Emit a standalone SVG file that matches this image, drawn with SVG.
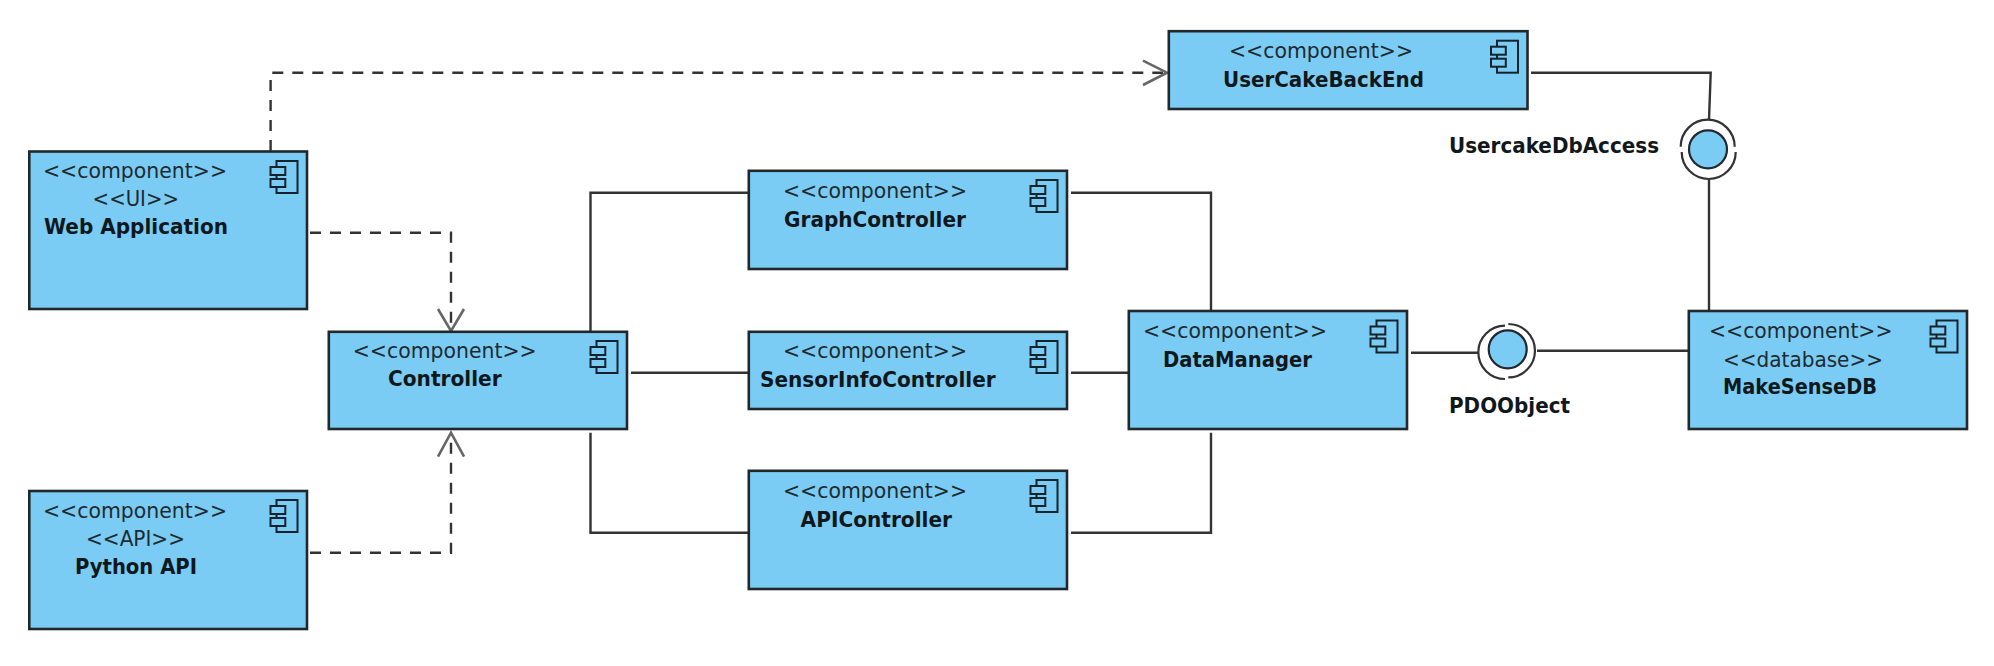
<svg xmlns="http://www.w3.org/2000/svg" width="1994" height="666" viewBox="0 0 1994 666">
<style>
.box{fill:#7accf4;stroke:#22272b;stroke-width:2.6}
.ico{fill:#7accf4;stroke:#14222b;stroke-width:2}
.ln{fill:none;stroke:#333;stroke-width:2.4}
.ds{fill:none;stroke:#333;stroke-width:2.4;stroke-dasharray:11 9}
.hd{fill:none;stroke:#666;stroke-width:2.6}
.arc{fill:none;stroke:#333;stroke-width:2.2}
.ifc{fill:#7accf4;stroke:#22272b;stroke-width:2.2}
text{font-family:"DejaVu Sans","Liberation Sans",sans-serif;font-size:21px;fill:#1f2a30;transform:translateY(1px)}
.b{font-weight:bold;fill:#10181c}
</style>
<defs>
<g id="icon">
<rect class="ico" x="-30.5" y="10" width="21" height="32"/>
<rect class="ico" x="-36.5" y="16" width="14.8" height="8"/>
<rect class="ico" x="-36.5" y="28" width="14.8" height="8"/>
</g>
</defs>
<g id="connectors">
<path class="ds" d="M270.6 151V72.7H1163"/>
<path class="hd" d="M1143 60.7L1167 72.7L1143 85"/>
<path class="ds" d="M310 232.7H451V329"/>
<path class="hd" d="M438 309L451 331L464 309"/>
<path class="ds" d="M310 552.7H451V435"/>
<path class="hd" d="M438 456.7L451 432.7L464 456.7"/>
<path class="ln" d="M590.5 331V192.7H748"/>
<path class="ln" d="M631 372.7H748"/>
<path class="ln" d="M590.5 432.7V532.7H748"/>
<path class="ln" d="M1071 192.7H1211V310"/>
<path class="ln" d="M1071 372.7H1128"/>
<path class="ln" d="M1071 532.7H1211V432.7"/>
<path class="ln" d="M1411 352.7H1478"/>
<path class="ln" d="M1537 350.7H1688"/>
<path class="ln" d="M1531 72.7H1710.7L1709 120"/>
<path class="ln" d="M1709 179V310"/>
</g>
<g id="web-application">
<rect class="box" x="29.3" y="151.5" width="277.7" height="157.5"/>
<use href="#icon" x="307" y="151"/>
<text x="43" y="177" textLength="184" lengthAdjust="spacingAndGlyphs">&lt;&lt;component&gt;&gt;</text>
<text x="92.6" y="205" textLength="86.4" lengthAdjust="spacingAndGlyphs">&lt;&lt;UI&gt;&gt;</text>
<text class="b" x="44" y="233" textLength="184" lengthAdjust="spacingAndGlyphs">Web Application</text>
</g>
<g id="python-api">
<rect class="box" x="29.3" y="491" width="277.7" height="138"/>
<use href="#icon" x="307" y="490"/>
<text x="43" y="516.7" textLength="184" lengthAdjust="spacingAndGlyphs">&lt;&lt;component&gt;&gt;</text>
<text x="86" y="545" textLength="99" lengthAdjust="spacingAndGlyphs">&lt;&lt;API&gt;&gt;</text>
<text class="b" x="75" y="573" textLength="122" lengthAdjust="spacingAndGlyphs">Python API</text>
</g>
<g id="controller">
<rect class="box" x="328.8" y="331.8" width="298.2" height="97.2"/>
<use href="#icon" x="627" y="331"/>
<text x="352.7" y="356.7" textLength="184" lengthAdjust="spacingAndGlyphs">&lt;&lt;component&gt;&gt;</text>
<text class="b" x="388" y="385" textLength="113.7" lengthAdjust="spacingAndGlyphs">Controller</text>
</g>
<g id="graph-controller">
<rect class="box" x="748.8" y="170.8" width="318.2" height="98.2"/>
<use href="#icon" x="1067" y="170"/>
<text x="783" y="197.3" textLength="184" lengthAdjust="spacingAndGlyphs">&lt;&lt;component&gt;&gt;</text>
<text class="b" x="784" y="225.7" textLength="182" lengthAdjust="spacingAndGlyphs">GraphController</text>
</g>
<g id="sensor-info-controller">
<rect class="box" x="748.8" y="331.8" width="318.2" height="77.2"/>
<use href="#icon" x="1067" y="331"/>
<text x="783" y="357.3" textLength="184" lengthAdjust="spacingAndGlyphs">&lt;&lt;component&gt;&gt;</text>
<text class="b" x="760" y="385.7" textLength="235.7" lengthAdjust="spacingAndGlyphs">SensorInfoController</text>
</g>
<g id="api-controller">
<rect class="box" x="748.8" y="470.8" width="318.2" height="118.2"/>
<use href="#icon" x="1067" y="470"/>
<text x="783" y="497.3" textLength="184" lengthAdjust="spacingAndGlyphs">&lt;&lt;component&gt;&gt;</text>
<text class="b" x="800.6" y="525.7" textLength="151.4" lengthAdjust="spacingAndGlyphs">APIController</text>
</g>
<g id="data-manager">
<rect class="box" x="1128.8" y="311" width="278.2" height="118"/>
<use href="#icon" x="1407" y="310.5"/>
<text x="1143" y="337.3" textLength="184" lengthAdjust="spacingAndGlyphs">&lt;&lt;component&gt;&gt;</text>
<text class="b" x="1163" y="365.7" textLength="149" lengthAdjust="spacingAndGlyphs">DataManager</text>
</g>
<g id="usercake-backend">
<rect class="box" x="1168.8" y="31.2" width="358.7" height="77.8"/>
<use href="#icon" x="1527.5" y="30.7"/>
<text x="1229" y="57.3" textLength="184" lengthAdjust="spacingAndGlyphs">&lt;&lt;component&gt;&gt;</text>
<text class="b" x="1223" y="85.7" textLength="201" lengthAdjust="spacingAndGlyphs">UserCakeBackEnd</text>
</g>
<g id="make-sense-db">
<rect class="box" x="1688.8" y="311" width="278.2" height="118"/>
<use href="#icon" x="1967" y="310.5"/>
<text x="1709" y="337.3" textLength="183.5" lengthAdjust="spacingAndGlyphs">&lt;&lt;component&gt;&gt;</text>
<text x="1723" y="365.7" textLength="160" lengthAdjust="spacingAndGlyphs">&lt;&lt;database&gt;&gt;</text>
<text class="b" x="1723" y="393" textLength="154" lengthAdjust="spacingAndGlyphs">MakeSenseDB</text>
</g>
<g id="usercake-db-access">
<path class="arc" d="M1680.7 146.7A27 27 0 0 1 1734.7 146.7"/>
<path class="arc" d="M1681.7 152A27 27 0 0 0 1735.7 152"/>
<circle class="ifc" cx="1708" cy="149.3" r="19"/>
<text class="b" x="1449" y="151.7" textLength="210" lengthAdjust="spacingAndGlyphs">UsercakeDbAccess</text>
</g>
<g id="pdo-object">
<path class="arc" d="M1505 325.6A26.7 26.7 0 0 0 1505 379"/>
<path class="arc" d="M1508.3 324A26.7 26.7 0 0 1 1508.3 377.4"/>
<circle class="ifc" cx="1507.7" cy="349.3" r="19"/>
<text class="b" x="1449" y="411.7" textLength="121" lengthAdjust="spacingAndGlyphs">PDOObject</text>
</g>
</svg>
